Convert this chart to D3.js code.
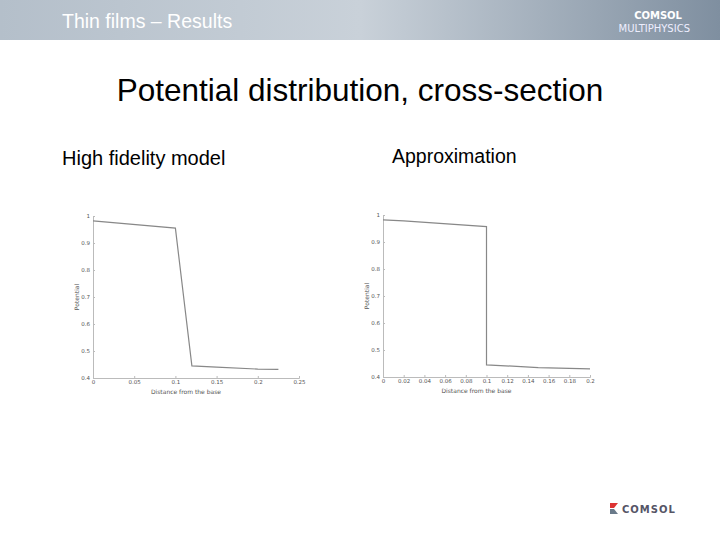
<!DOCTYPE html>
<html><head><meta charset="utf-8">
<script src="https://cdn.jsdelivr.net/npm/d3@7"></script>
<style>body{margin:0;background:#fff}svg{display:block}</style>
</head><body>
<script>
// high fidelity model: [distance, potential]
const hiX = [0, 0.1, 0.12, 0.15, 0.2, 0.225];
const hiY = [0.982, 0.955, 0.445, 0.44, 0.433, 0.432];
const hiTicks = [0, 0.05, 0.1, 0.15, 0.2, 0.25];
// approximation
const apX = [0, 0.02, 0.1, 0.1, 0.15, 0.2];
const apY = [0.982, 0.978, 0.957, 0.445, 0.435, 0.43];
const apTicks = [0, 0.02, 0.04, 0.06, 0.08, 0.1, 0.12, 0.14, 0.16, 0.18, 0.2];
const yTicks = [0.4, 0.5, 0.6, 0.7, 0.8, 0.9, 1];

const svg = d3.select('body').append('svg').attr('width', 720).attr('height', 540);

const defs = svg.append('defs');
const g = defs.append('linearGradient').attr('id', 'hdr');
g.append('stop').attr('offset', '0').attr('stop-color', '#b4bfca');
g.append('stop').attr('offset', '0.5').attr('stop-color', '#c9d1d9');
g.append('stop').attr('offset', '1').attr('stop-color', '#7f8fa0');
svg.append('rect').attr('width', 720).attr('height', 40).attr('fill', 'url(#hdr)');
svg.append('text').attr('x', 62).attr('y', 28).attr('fill', '#fff')
  .style('font', '19.5px "Liberation Sans", Arial').text('Thin films – Results');
svg.append('text').attr('x', 682).attr('y', 19).attr('text-anchor', 'end').attr('fill', '#fff')
  .style('font', 'bold 10px "DejaVu Sans"').text('COMSOL');
svg.append('text').attr('x', 690).attr('y', 32).attr('text-anchor', 'end').attr('fill', '#eef')
  .style('font', '10px "DejaVu Sans"').text('MULTIPHYSICS');

svg.append('text').attr('x', 360).attr('y', 101).attr('text-anchor', 'middle')
  .style('font', '31.5px "Liberation Sans", Arial').text('Potential distribution, cross-section');
svg.append('text').attr('x', 62).attr('y', 165)
  .style('font', '20px "Liberation Sans", Arial').text('High fidelity model');
svg.append('text').attr('x', 392).attr('y', 163)
  .style('font', '19.5px "Liberation Sans", Arial').text('Approximation');

function plot(xs, ys, ticks, xr, yr, xmax) {
  const x = d3.scaleLinear().domain([0, xmax]).range(xr);
  const y = d3.scaleLinear().domain([0.4, 1]).range(yr);
  const p = svg.append('g');
  const ax = p.append('g').attr('transform', `translate(0,${yr[0]})`)
    .call(d3.axisBottom(x).tickValues(ticks).tickSize(-2).tickPadding(2).tickFormat(d3.format('~g')));
  const ay = p.append('g').attr('transform', `translate(${xr[0]},0)`)
    .call(d3.axisLeft(y).tickValues(yTicks).tickSize(-2).tickFormat(d3.format('~g')));
  [ax, ay].forEach(a => {
    a.selectAll('path,line').attr('stroke', '#bbb');
    a.selectAll('text').attr('fill', '#555').style('font', '5.5px "DejaVu Sans"');
  });
  ax.selectAll('text').attr('dy', '0.7em');
  p.append('text').attr('x', (xr[0] + xr[1]) / 2 - 10).attr('y', yr[0] + 16).attr('text-anchor', 'middle')
    .attr('fill', '#555').style('font', '6px "DejaVu Sans"').text('Distance from the base');
  p.append('text').attr('transform', `translate(${xr[0] - 14},${(yr[0] + yr[1]) / 2}) rotate(-90)`)
    .attr('text-anchor', 'middle').attr('fill', '#555').style('font', '6px "DejaVu Sans"').text('Potential');
  p.append('path').datum(d3.zip(xs, ys)).attr('fill', 'none').attr('stroke', '#888').attr('stroke-width', 1.2)
    .attr('d', d3.line().x(d => x(d[0])).y(d => y(d[1])));
}
plot(hiX, hiY, hiTicks, [93, 299], [378, 216], 0.25);
plot(apX, apY, apTicks, [383, 590], [377, 215], 0.2);

// footer logo
svg.append('path').attr('d', 'M610,503 h8 l-4,5 h-4z').attr('fill', '#d33');
svg.append('path').attr('d', 'M610,509 h4 l4,5 h-8z').attr('fill', '#6a7a8a');
svg.append('text').attr('x', 622).attr('y', 513).attr('fill', '#556')
  .style('font', 'bold 10px "DejaVu Sans"').style('letter-spacing', '1px').text('COMSOL');
</script>
</body></html>
